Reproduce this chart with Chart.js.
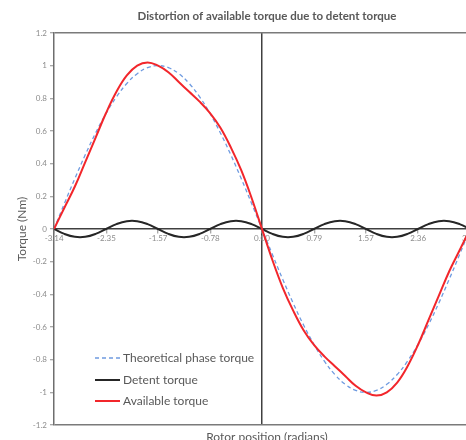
<!DOCTYPE html>
<html>
<head>
<meta charset="utf-8">
<script src="https://cdn.jsdelivr.net/npm/chart.js@4.4.1/dist/chart.umd.min.js"></script>
<style>
  html, body { margin: 0; padding: 0; background: #fff; overflow: hidden; }
  #wrap { width: 466px; height: 440px; overflow: hidden; }
</style>
</head>
<body>
<div id="wrap"><canvas id="torque" width="480" height="440" style="width:480px;height:440px"></canvas></div>
<script>
// rotor position (radians)
const rotorPos = [-3.142, -2.985, -2.827, -2.670, -2.513, -2.356, -2.199, -2.042, -1.885, -1.728,
  -1.571, -1.414, -1.257, -1.100, -0.942, -0.785, -0.628, -0.471, -0.314, -0.157,
  0, 0.157, 0.314, 0.471, 0.628, 0.785, 0.942, 1.100, 1.257, 1.414,
  1.571, 1.728, 1.885, 2.042, 2.199, 2.356, 2.513, 2.670, 2.827, 2.985, 3.142];

const theoretical = [0, 0.156, 0.309, 0.454, 0.588, 0.707, 0.809, 0.891, 0.951, 0.988,
  1, 0.988, 0.951, 0.891, 0.809, 0.707, 0.588, 0.454, 0.309, 0.156,
  0, -0.156, -0.309, -0.454, -0.588, -0.707, -0.809, -0.891, -0.951, -0.988,
  -1, -0.988, -0.951, -0.891, -0.809, -0.707, -0.588, -0.454, -0.309, -0.156, 0];

const detent = [0, -0.03, -0.048, -0.048, -0.03, 0, 0.03, 0.048, 0.048, 0.03,
  0, -0.03, -0.048, -0.048, -0.03, 0, 0.03, 0.048, 0.048, 0.03,
  0, -0.03, -0.048, -0.048, -0.03, 0, 0.03, 0.048, 0.048, 0.03,
  0, -0.03, -0.048, -0.048, -0.03, 0, 0.03, 0.048, 0.048, 0.03, 0];

const available = [0, 0.13, 0.26, 0.41, 0.56, 0.71, 0.84, 0.94, 1.00, 1.02,
  1.00, 0.96, 0.90, 0.84, 0.78, 0.71, 0.62, 0.50, 0.36, 0.19,
  0, -0.19, -0.36, -0.50, -0.62, -0.71, -0.78, -0.84, -0.90, -0.96,
  -1.00, -1.02, -1.00, -0.94, -0.84, -0.71, -0.56, -0.41, -0.26, -0.13, 0];

const xTicks = [-3.14, -2.35, -1.57, -0.78, 0, 0.79, 1.57, 2.36, 3.14];
const xTickLabels = ['-3.14', '-2.35', '-1.57', '-0.78', '0.00', '0.79', '1.57', '2.36', '3.14'];
const yTicks = [1.2, 1, 0.8, 0.6, 0.4, 0.2, 0, -0.2, -0.4, -0.6, -0.8, -1, -1.2];
const yTickLabels = ['1.2', '1', '0.8', '0.6', '0.4', '0.2', '0', '-0.2', '-0.4', '-0.6', '-0.8', '-1', '-1.2'];

const chartTitle = 'Distortion of available torque due to detent torque';
const xTitle = 'Rotor position (radians)';
const yTitle = 'Torque (Nm)';

function pts(values) {
  return rotorPos.map((x, i) => ({ x: x, y: values[i] }));
}

const textGray = '#595959';

/*** title, x title and legend inside the plot ***/
const overlay = {
  id: 'overlay',
  afterDraw(chart) {
    const ctx = chart.ctx;
    const area = chart.chartArea;
    ctx.save();
    ctx.fillStyle = textGray;
    ctx.textAlign = 'center';
    ctx.textBaseline = 'middle';
    ctx.font = 'bold 11.5px Lato';
    ctx.fillText(chartTitle, 267, 16);
    ctx.font = '12px Lato';
    ctx.fillText(xTitle, 267, 437);

    // legend
    const rows = [358, 380, 401];
    ctx.textAlign = 'left';
    chart.data.datasets.forEach((ds, i) => {
      const y = rows[i];
      ctx.beginPath();
      ctx.strokeStyle = ds.borderColor;
      ctx.lineWidth = ds.borderWidth;
      ctx.setLineDash(ds.borderDash || []);
      ctx.moveTo(95, y);
      ctx.lineTo(120, y);
      ctx.stroke();
      ctx.setLineDash([]);
      ctx.fillStyle = textGray;
      ctx.fillText(ds.label, 123, y + 0.5);
    });
    ctx.restore();
  }
};

let ctx = document.getElementById('torque').getContext('2d');

new Chart(ctx, {
  type: 'line',
  data: {
    datasets: [{
      label: 'Theoretical phase torque',
      data: pts(theoretical),
      borderColor: '#6f9be0',
      borderWidth: 1.3,
      borderDash: [4, 3],
      pointRadius: 0,
      tension: 0.4,
      order: 1
    }, {
      label: 'Detent torque',
      data: pts(detent),
      borderColor: '#262626',
      borderWidth: 2,
      pointRadius: 0,
      tension: 0.4,
      order: 2
    }, {
      label: 'Available torque',
      data: pts(available),
      borderColor: '#f2262b',
      borderWidth: 2,
      pointRadius: 0,
      tension: 0.4,
      order: 0
    }]
  },
  plugins: [overlay],
  options: {
    responsive: false,
    animation: false,
    layout: { padding: { left: 0, top: 33, right: 10, bottom: 15 } },
    plugins: {
      legend: { display: false },
      title: { display: false },
      tooltip: { enabled: false }
    },
    scales: {
      x: {
        type: 'linear',
        position: { y: 0 },
        min: -3.142,
        max: 3.142,
        afterBuildTicks: scale => { scale.ticks = xTicks.map(v => ({ value: v })); },
        ticks: {
          autoSkip: false,
          maxRotation: 0,
          padding: 1,
          color: '#8c8c8c',
          font: { family: 'Lato', size: 8 },
          callback: (v, i) => xTickLabels[i]
        },
        grid: {
          color: c => (c.tick && c.tick.value === 0) ? '#404040' : 'rgba(0,0,0,0)',
          lineWidth: 1.5,
          tickColor: '#8c8c8c',
          tickLength: 4,
          tickWidth: 1
        },
        border: { color: '#404040', width: 1.5 }
      },
      y: {
        min: -1.2,
        max: 1.2,
        afterBuildTicks: scale => { scale.ticks = yTicks.map(v => ({ value: v })); },
        afterFit: scale => { scale.width = 54; },
        ticks: {
          padding: 3,
          color: '#8c8c8c',
          font: { family: 'Lato', size: 8 },
          callback: (v, i) => yTickLabels[i]
        },
        grid: {
          color: c => (c.tick && Math.abs(c.tick.value) === 1.2) ? '#7a7a7a' : 'rgba(0,0,0,0)',
          lineWidth: 1.5,
          tickColor: '#8c8c8c',
          tickLength: 4,
          tickWidth: 1
        },
        border: { color: '#6e6e6e', width: 1.5 },
        title: {
          display: true,
          text: yTitle,
          color: textGray,
          font: { family: 'Lato', size: 12 },
          padding: { top: 15, bottom: 0 }
        }
      }
    }
  }
});
</script>
</body>
</html>
